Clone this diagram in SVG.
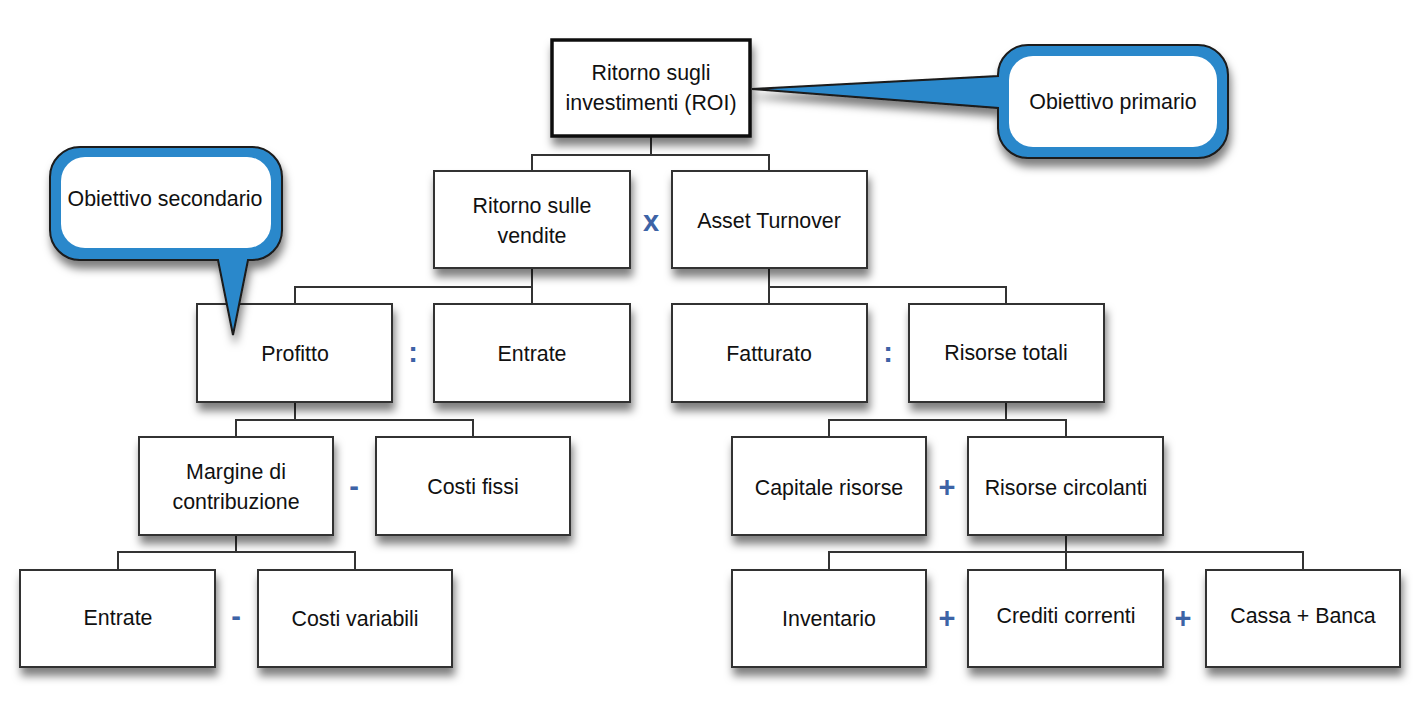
<svg xmlns="http://www.w3.org/2000/svg" width="1427" height="717" viewBox="0 0 1427 717">
<defs>
<filter id="sh" x="-20%" y="-20%" width="140%" height="160%">
<feDropShadow dx="2" dy="8" stdDeviation="4" flood-color="#000" flood-opacity="0.5"/>
</filter>
<style>
.box{fill:#fff;stroke:#333;stroke-width:2;filter:url(#sh)}
.roi{fill:#fff;stroke:#111;stroke-width:3.5;filter:url(#sh)}
.t{font-family:"Liberation Sans",Arial,sans-serif;font-size:23px;fill:#111;text-anchor:middle}
.op{font-family:"Liberation Sans",Arial,sans-serif;font-weight:bold;font-size:29px;fill:#3d63a6;text-anchor:middle}
.con{fill:none;stroke:#333;stroke-width:2}
.call{fill:#2b88cb;stroke:#1a1a1a;stroke-width:2;filter:url(#sh)}
.inner{fill:#fff;stroke:none}
</style>
</defs>
<rect width="1427" height="717" fill="#fff"/>
<g id="connectors">
<path class="con" d="M651,136 V155 M532,171 V155 H769 V171"/>
<path class="con" d="M532,268 V287 M295,304 V287 H532 V304"/>
<path class="con" d="M769,268 V287 M769,304 V287 H1006 V304"/>
<path class="con" d="M295,402 V420 M236,437 V420 H473 V437"/>
<path class="con" d="M1006,402 V420 M829,437 V420 H1066 V437"/>
<path class="con" d="M236,535 V552 M118,570 V552 H355 V570"/>
<path class="con" d="M1066,535 V570 M829,570 V552 H1303 V570"/>
</g>
<g id="n-roi"><rect class="roi" x="552" y="40" width="198" height="96"/><text class="t" transform="translate(651 80) scale(0.93 1)">Ritorno sugli</text><text class="t" transform="translate(651 110) scale(0.93 1)">investimenti (ROI)</text></g>
<g id="n-ros"><rect class="box" x="434" y="171" width="196" height="97"/><text class="t" transform="translate(532 213) scale(0.93 1)">Ritorno sulle</text><text class="t" transform="translate(532 243) scale(0.93 1)">vendite</text></g>
<g id="n-at"><rect class="box" x="672" y="171" width="195" height="97"/><text class="t" transform="translate(769 228) scale(0.93 1)">Asset Turnover</text></g>
<g id="n-prof"><rect class="box" x="197" y="304" width="195" height="98"/><text class="t" transform="translate(295 361) scale(0.93 1)">Profitto</text></g>
<g id="n-entr1"><rect class="box" x="434" y="304" width="196" height="98"/><text class="t" transform="translate(532 361) scale(0.93 1)">Entrate</text></g>
<g id="n-fatt"><rect class="box" x="672" y="304" width="195" height="98"/><text class="t" transform="translate(769 361) scale(0.93 1)">Fatturato</text></g>
<g id="n-rt"><rect class="box" x="909" y="304" width="195" height="98"/><text class="t" transform="translate(1006 360) scale(0.93 1)">Risorse totali</text></g>
<g id="n-marg"><rect class="box" x="139" y="437" width="194" height="98"/><text class="t" transform="translate(236 479) scale(0.93 1)">Margine di</text><text class="t" transform="translate(236 509) scale(0.93 1)">contribuzione</text></g>
<g id="n-cf"><rect class="box" x="376" y="437" width="194" height="98"/><text class="t" transform="translate(473 494) scale(0.93 1)">Costi fissi</text></g>
<g id="n-cap"><rect class="box" x="732" y="437" width="194" height="98"/><text class="t" transform="translate(829 495) scale(0.93 1)">Capitale risorse</text></g>
<g id="n-rc"><rect class="box" x="968" y="437" width="195" height="98"/><text class="t" transform="translate(1066 495) scale(0.93 1)">Risorse circolanti</text></g>
<g id="n-entr2"><rect class="box" x="20" y="570" width="195" height="97"/><text class="t" transform="translate(118 625) scale(0.93 1)">Entrate</text></g>
<g id="n-cv"><rect class="box" x="258" y="570" width="194" height="97"/><text class="t" transform="translate(355 626) scale(0.93 1)">Costi variabili</text></g>
<g id="n-inv"><rect class="box" x="732" y="570" width="194" height="97"/><text class="t" transform="translate(829 626) scale(0.93 1)">Inventario</text></g>
<g id="n-cred"><rect class="box" x="968" y="570" width="195" height="97"/><text class="t" transform="translate(1066 623) scale(0.93 1)">Crediti correnti</text></g>
<g id="n-cassa"><rect class="box" x="1206" y="570" width="194" height="97"/><text class="t" transform="translate(1303 623) scale(0.93 1)">Cassa + Banca</text></g>
<g id="operators">
<text class="op" x="651" y="231">x</text>
<text class="op" x="413" y="362">:</text>
<text class="op" x="888" y="362">:</text>
<text class="op" x="354" y="496">-</text>
<text class="op" x="947" y="497">+</text>
<text class="op" x="236" y="626">-</text>
<text class="op" x="947" y="628">+</text>
<text class="op" x="1183" y="628">+</text>
</g>
<g id="callout-primary">
<path class="call" d="M1028,45 H1198 A30,30 0 0 1 1228,75 V128 A30,30 0 0 1 1198,158 H1028 A30,30 0 0 1 998,128 V108 L752,89 L998,76 V75 A30,30 0 0 1 1028,45 Z"/>
<rect class="inner" x="1009" y="56" width="208" height="91" rx="24"/>
<text class="t" transform="translate(1113 109) scale(0.93 1)">Obiettivo primario</text>
</g>
<g id="callout-secondary">
<path class="call" d="M80,147 H252 A30,30 0 0 1 282,177 V230 A30,30 0 0 1 252,260 H248 L233,335 L218,260 H80 A30,30 0 0 1 50,230 V177 A30,30 0 0 1 80,147 Z"/>
<rect class="inner" x="61" y="157" width="210" height="91" rx="24"/>
<text class="t" transform="translate(165 206) scale(0.93 1)">Obiettivo secondario</text>
</g>
</svg>
